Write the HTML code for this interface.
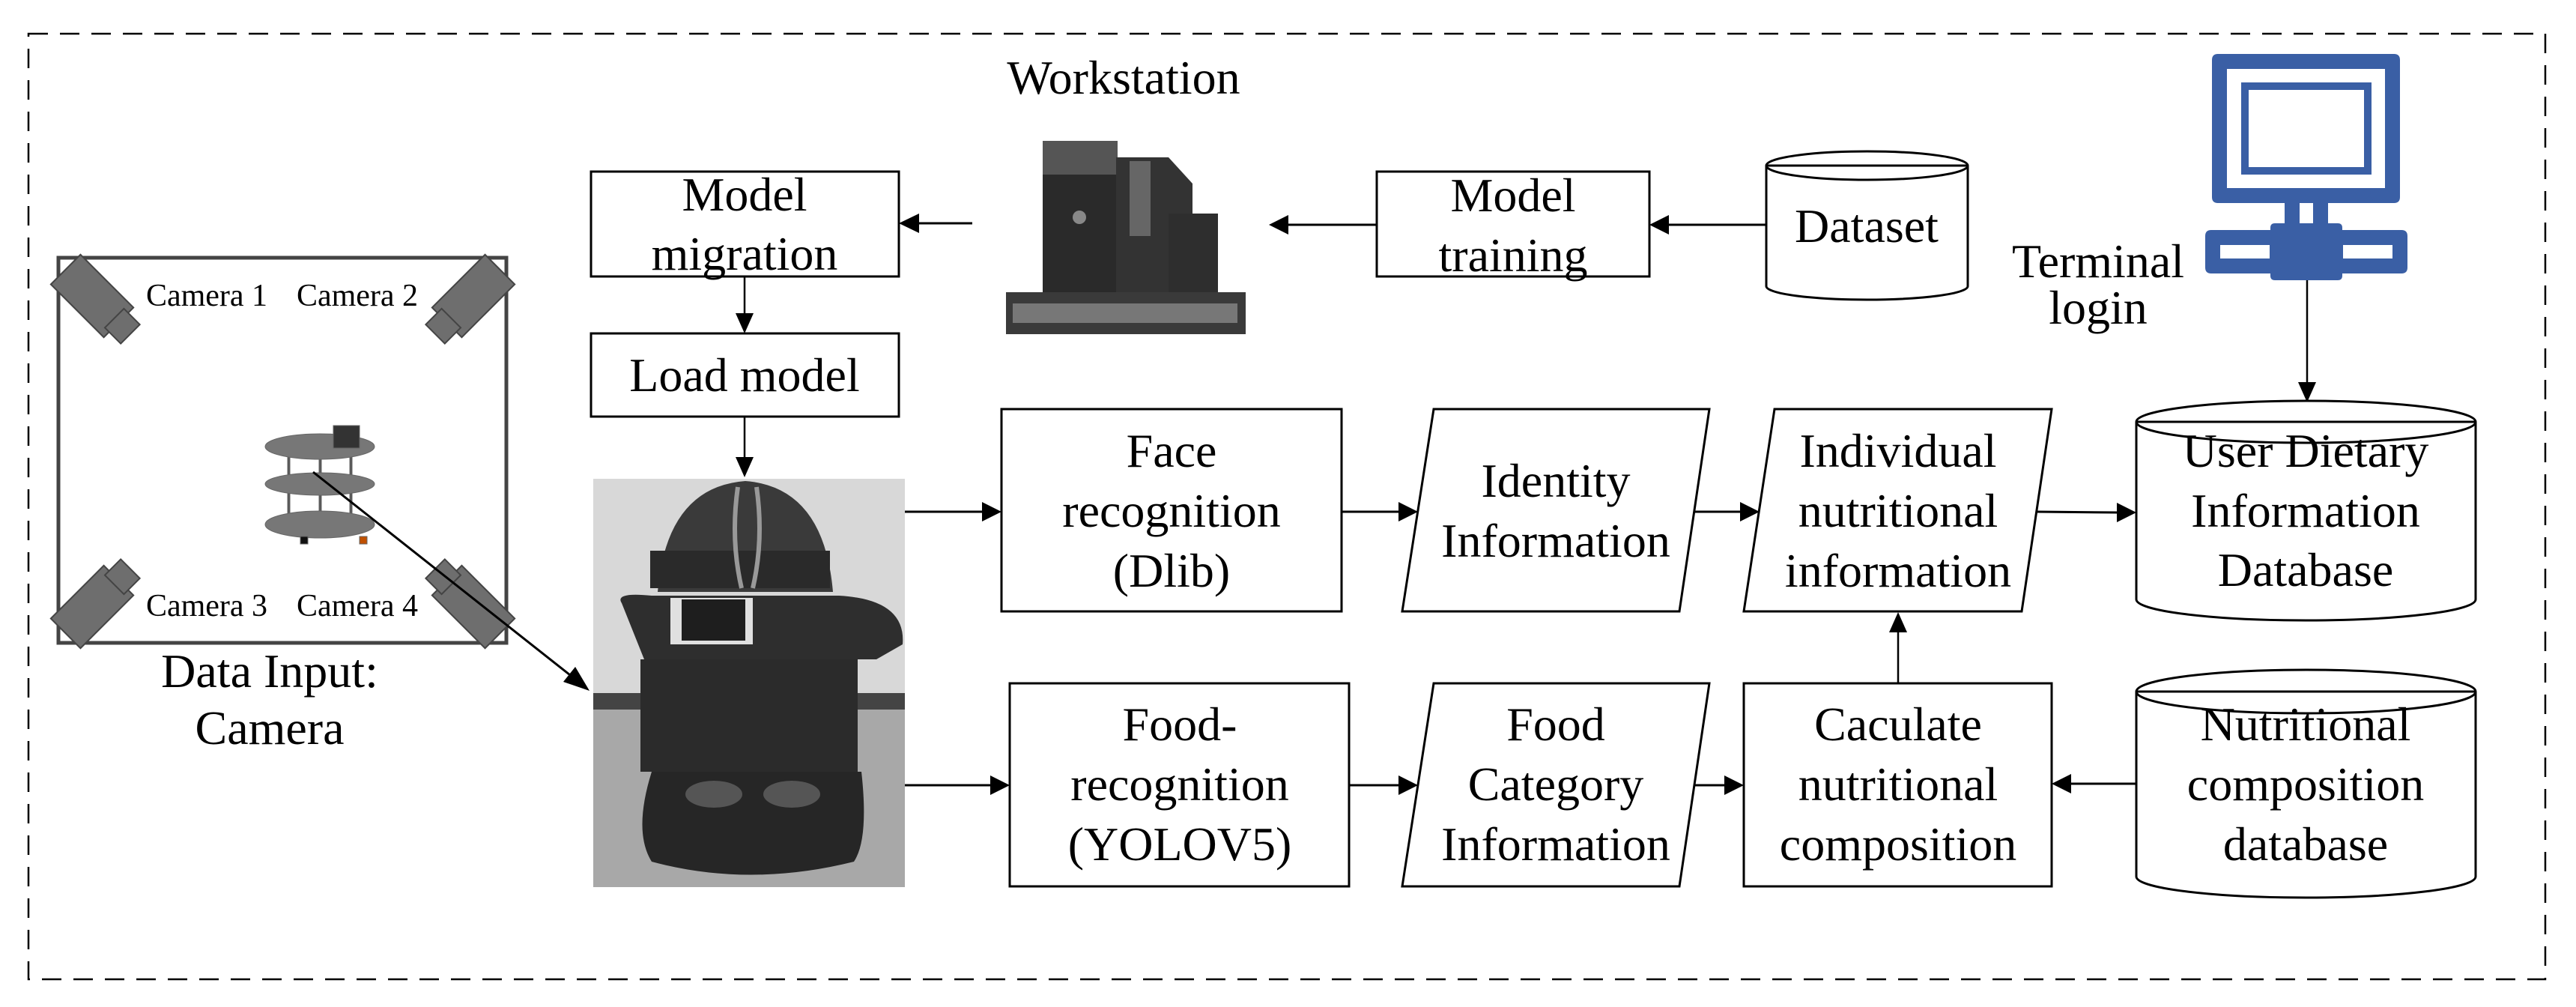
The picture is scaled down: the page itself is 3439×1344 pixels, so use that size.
<!DOCTYPE html>
<html><head><meta charset="utf-8"><style>
html,body{margin:0;padding:0;background:#fff;}
svg{display:block;}
text{font-family:"Liberation Serif",serif;fill:#000;}
</style></head><body>
<svg width="3439" height="1344" viewBox="0 0 3439 1344" xmlns="http://www.w3.org/2000/svg">
<defs>
<marker id="ah" markerWidth="12" markerHeight="10" refX="11" refY="5" orient="auto" markerUnits="userSpaceOnUse" viewBox="0 0 12 10">
</marker>
</defs>
<!-- dashed outer border -->
<rect x="38" y="45" width="3360" height="1262" fill="none" stroke="#000" stroke-width="2.5" stroke-dasharray="26,16"/>

<!-- camera room -->
<rect x="78" y="344" width="598" height="514" fill="#fff" stroke="#444" stroke-width="5"/>
<g fill="#6e6e6e" stroke="#444" stroke-width="2">
 <g transform="translate(123,395) rotate(45)"><rect x="-50" y="-28" width="100" height="56"/><rect x="42" y="-18" width="30" height="36"/></g>
 <g transform="translate(632,395) rotate(135)"><rect x="-50" y="-28" width="100" height="56"/><rect x="42" y="-18" width="30" height="36"/></g>
 <g transform="translate(123,810) rotate(-45)"><rect x="-50" y="-28" width="100" height="56"/><rect x="42" y="-18" width="30" height="36"/></g>
 <g transform="translate(632,810) rotate(-135)"><rect x="-50" y="-28" width="100" height="56"/><rect x="42" y="-18" width="30" height="36"/></g>
</g>
<text x="276" y="408" font-size="42" text-anchor="middle">Camera 1</text>
<text x="477" y="408" font-size="42" text-anchor="middle">Camera 2</text>
<text x="276" y="822" font-size="42" text-anchor="middle">Camera 3</text>
<text x="477" y="822" font-size="42" text-anchor="middle">Camera 4</text>
<!-- small robot -->
<g fill="#777" stroke="#666" stroke-width="1">
 <rect x="384" y="590" width="3" height="110" fill="#555"/>
 <rect x="426" y="590" width="3" height="110" fill="#555"/>
 <rect x="467" y="590" width="3" height="110" fill="#555"/>
 <ellipse cx="427" cy="596" rx="73" ry="17"/>
 <ellipse cx="427" cy="646" rx="73" ry="15"/>
 <ellipse cx="427" cy="700" rx="73" ry="18"/>
 <rect x="445" y="568" width="35" height="30" fill="#333"/>
 <rect x="401" y="716" width="10" height="10" fill="#111"/>
 <rect x="480" y="716" width="10" height="10" fill="#c05000"/>
</g>
<text x="360" y="917" font-size="64" text-anchor="middle">Data Input:</text>
<text x="360" y="993" font-size="64" text-anchor="middle">Camera</text>
<!-- diagonal arrow -->
<line x1="418" y1="630" x2="775" y2="912" stroke="#000" stroke-width="3"/>
<polygon points="787,922 752,910 768,890" fill="#000"/>

<!-- Model migration -->
<rect x="789" y="229" width="411" height="140" fill="#fff" stroke="#000" stroke-width="3"/>
<text x="994" y="281" font-size="64" text-anchor="middle">Model</text>
<text x="994" y="360" font-size="64" text-anchor="middle">migration</text>
<!-- Load model -->
<rect x="789" y="445" width="411" height="111" fill="#fff" stroke="#000" stroke-width="3"/>
<text x="994" y="522" font-size="64" text-anchor="middle">Load model</text>
<line x1="994" y1="369" x2="994" y2="420" stroke="#000" stroke-width="2.5"/>
<polygon points="982,418 1006,418 994,445" fill="#000"/>
<line x1="994" y1="556" x2="994" y2="612" stroke="#000" stroke-width="2.5"/>
<polygon points="982,610 1006,610 994,637" fill="#000"/>

<!-- Workstation -->
<text x="1500" y="125" font-size="64" text-anchor="middle">Workstation</text>
<g>
 <rect x="1392" y="188" width="100" height="212" fill="#2a2a2a"/>
 <rect x="1392" y="188" width="100" height="45" fill="#555"/>
 <polygon points="1490,210 1560,210 1592,245 1592,400 1490,400" fill="#333"/>
 <rect x="1508" y="215" width="28" height="100" fill="#666"/>
 <rect x="1560" y="285" width="66" height="115" fill="#2e2e2e"/>
 <rect x="1343" y="390" width="320" height="56" fill="#3a3a3a"/>
 <rect x="1352" y="405" width="300" height="26" fill="#777"/>
 <circle cx="1441" cy="290" r="9" fill="#888"/>
</g>
<line x1="1298" y1="298" x2="1225" y2="298" stroke="#000" stroke-width="3"/>
<polygon points="1200,298 1227,285 1227,311" fill="#000"/>

<!-- Model training -->
<rect x="1838" y="229" width="364" height="140" fill="#fff" stroke="#000" stroke-width="3"/>
<text x="2020" y="282" font-size="64" text-anchor="middle">Model</text>
<text x="2020" y="362" font-size="64" text-anchor="middle">training</text>
<line x1="1838" y1="300" x2="1720" y2="300" stroke="#000" stroke-width="3"/>
<polygon points="1694,300 1720,287 1720,313" fill="#000"/>
<!-- Dataset -->
<path d="M2358,221 L2358,382 A134.5,18 0 0 0 2627,382 L2627,221" fill="#fff" stroke="#000" stroke-width="3"/>
<ellipse cx="2492.5" cy="221" rx="134.5" ry="19" fill="#fff" stroke="#000" stroke-width="3"/>
<line x1="2358" y1="221" x2="2627" y2="221" stroke="#000" stroke-width="3"/>
<text x="2492" y="323" font-size="64" text-anchor="middle">Dataset</text>
<line x1="2358" y1="300" x2="2228" y2="300" stroke="#000" stroke-width="3"/>
<polygon points="2202,300 2228,287 2228,313" fill="#000"/>

<!-- Terminal -->
<text x="2801" y="370" font-size="64" text-anchor="middle">Terminal</text>
<text x="2801" y="432" font-size="64" text-anchor="middle">login</text>
<g fill="#3a5fa5">
 <path fill-rule="evenodd" d="M2961,72 H3196 Q3204,72 3204,80 V263 Q3204,271 3196,271 H2961 Q2953,271 2953,263 V80 Q2953,72 2961,72 Z M2973,92 V251 H3184 V92 Z"/>
 <path fill-rule="evenodd" d="M2992,110 H3166 V233 H2992 Z M3002,120 V223 H3156 V120 Z"/>
 <rect x="3050" y="271" width="20" height="30"/>
 <rect x="3088" y="271" width="20" height="30"/>
 <path fill-rule="evenodd" d="M2952,307 H3206 Q3214,307 3214,315 V357 Q3214,365 3206,365 H2952 Q2944,365 2944,357 V315 Q2944,307 2952,307 Z M2964,327 V345 H3030 V327 Z M3128,327 V345 H3194 V327 Z"/>
 <path fill-rule="evenodd" d="M3037,298 H3121 Q3127,298 3127,304 V368 Q3127,374 3121,374 H3037 Q3031,374 3031,368 V304 Q3031,298 3037,298 Z M3051,318 V355 H3107 V318 Z"/>
</g>
<line x1="3080" y1="374" x2="3080" y2="512" stroke="#000" stroke-width="2.5"/>
<polygon points="3068,510 3092,510 3080,537" fill="#000"/>

<!-- Robot photo -->
<g>
 <rect x="792" y="639" width="416" height="545" fill="#d8d8d8"/>
 <rect x="792" y="930" width="416" height="254" fill="#a8a8a8"/>
 <rect x="792" y="925" width="416" height="22" fill="#444"/>
 <path d="M878,790 Q890,650 995,642 Q1100,650 1112,790 Z" fill="#3a3a3a"/>
 <rect x="868" y="735" width="240" height="50" fill="#2a2a2a"/>
 <path d="M985,650 Q975,720 990,785 M1010,650 Q1020,720 1005,785" stroke="#999" stroke-width="6" fill="none"/>
 <path d="M830,805 Q820,790 870,795 L1120,795 Q1210,800 1205,860 L1170,880 L860,880 Z" fill="#2e2e2e"/>
 <rect x="895" y="798" width="110" height="62" fill="#e0e0e0"/>
 <rect x="910" y="800" width="85" height="55" fill="#1e1e1e"/>
 <rect x="855" y="880" width="290" height="150" fill="#2b2b2b"/>
 <path d="M870,1030 L1150,1030 Q1160,1120 1140,1150 Q1000,1185 870,1150 Q845,1110 870,1030 Z" fill="#262626"/>
 <ellipse cx="953" cy="1060" rx="38" ry="18" fill="#555"/>
 <ellipse cx="1057" cy="1060" rx="38" ry="18" fill="#555"/>
</g>

<!-- Face recognition -->
<rect x="1337" y="546" width="454" height="270" fill="#fff" stroke="#000" stroke-width="3"/>
<text x="1564" y="623" font-size="64" text-anchor="middle">Face</text>
<text x="1564" y="703" font-size="64" text-anchor="middle">recognition</text>
<text x="1564" y="783" font-size="64" text-anchor="middle">(Dlib)</text>
<line x1="1208" y1="683" x2="1312" y2="683" stroke="#000" stroke-width="3"/>
<polygon points="1337,683 1311,670 1311,696" fill="#000"/>
<!-- Identity -->
<polygon points="1914,546 2282,546 2242,816 1872,816" fill="#fff" stroke="#000" stroke-width="3"/>
<text x="2077" y="663" font-size="64" text-anchor="middle">Identity</text>
<text x="2077" y="743" font-size="64" text-anchor="middle">Information</text>
<line x1="1791" y1="683" x2="1868" y2="683" stroke="#000" stroke-width="3"/>
<polygon points="1893,683 1867,670 1867,696" fill="#000"/>
<!-- Individual -->
<polygon points="2369,546 2739,546 2699,816 2328,816" fill="#fff" stroke="#000" stroke-width="3"/>
<text x="2534" y="623" font-size="64" text-anchor="middle">Individual</text>
<text x="2534" y="703" font-size="64" text-anchor="middle">nutritional</text>
<text x="2534" y="783" font-size="64" text-anchor="middle">information</text>
<line x1="2262" y1="683" x2="2324" y2="683" stroke="#000" stroke-width="3"/>
<polygon points="2349,683 2323,670 2323,696" fill="#000"/>
<!-- User Dietary DB -->
<path d="M2852,563 L2852,800 A226.5,28 0 0 0 3305,800 L3305,563" fill="#fff" stroke="#000" stroke-width="3"/>
<ellipse cx="3078.5" cy="563" rx="226.5" ry="28" fill="#fff" stroke="#000" stroke-width="3"/>
<line x1="2852" y1="563" x2="3305" y2="563" stroke="#000" stroke-width="3"/>
<text x="3078" y="623" font-size="64" text-anchor="middle">User Dietary</text>
<text x="3078" y="703" font-size="64" text-anchor="middle">Information</text>
<text x="3078" y="782" font-size="64" text-anchor="middle">Database</text>
<line x1="2719" y1="683" x2="2827" y2="684" stroke="#000" stroke-width="3"/>
<polygon points="2852,684 2826,671 2826,697" fill="#000"/>

<!-- Food recognition -->
<rect x="1348" y="912" width="453" height="271" fill="#fff" stroke="#000" stroke-width="3"/>
<text x="1575" y="988" font-size="64" text-anchor="middle">Food-</text>
<text x="1575" y="1068" font-size="64" text-anchor="middle">recognition</text>
<text x="1575" y="1148" font-size="64" text-anchor="middle">(YOLOV5)</text>
<line x1="1208" y1="1048" x2="1323" y2="1048" stroke="#000" stroke-width="3"/>
<polygon points="1348,1048 1322,1035 1322,1061" fill="#000"/>
<!-- Food category -->
<polygon points="1914,912 2282,912 2242,1183 1872,1183" fill="#fff" stroke="#000" stroke-width="3"/>
<text x="2077" y="988" font-size="64" text-anchor="middle">Food</text>
<text x="2077" y="1068" font-size="64" text-anchor="middle">Category</text>
<text x="2077" y="1148" font-size="64" text-anchor="middle">Information</text>
<line x1="1801" y1="1048" x2="1868" y2="1048" stroke="#000" stroke-width="3"/>
<polygon points="1893,1048 1867,1035 1867,1061" fill="#000"/>
<!-- Caculate -->
<rect x="2328" y="912" width="411" height="271" fill="#fff" stroke="#000" stroke-width="3"/>
<text x="2534" y="988" font-size="64" text-anchor="middle">Caculate</text>
<text x="2534" y="1068" font-size="64" text-anchor="middle">nutritional</text>
<text x="2534" y="1148" font-size="64" text-anchor="middle">composition</text>
<line x1="2262" y1="1048" x2="2303" y2="1048" stroke="#000" stroke-width="3"/>
<polygon points="2328,1048 2302,1035 2302,1061" fill="#000"/>
<line x1="2534" y1="912" x2="2534" y2="842" stroke="#000" stroke-width="2.5"/>
<polygon points="2522,844 2546,844 2534,817" fill="#000"/>
<!-- Nutritional DB -->
<path d="M2852,923 L2852,1170 A226.5,28 0 0 0 3305,1170 L3305,923" fill="#fff" stroke="#000" stroke-width="3"/>
<ellipse cx="3078.5" cy="923" rx="226.5" ry="29" fill="#fff" stroke="#000" stroke-width="3"/>
<line x1="2852" y1="923" x2="3305" y2="923" stroke="#000" stroke-width="3"/>
<text x="3078" y="988" font-size="64" text-anchor="middle">Nutritional</text>
<text x="3078" y="1068" font-size="64" text-anchor="middle">composition</text>
<text x="3078" y="1148" font-size="64" text-anchor="middle">database</text>
<line x1="2852" y1="1046" x2="2764" y2="1046" stroke="#000" stroke-width="3"/>
<polygon points="2739,1046 2765,1033 2765,1059" fill="#000"/>
</svg>
</body></html>
